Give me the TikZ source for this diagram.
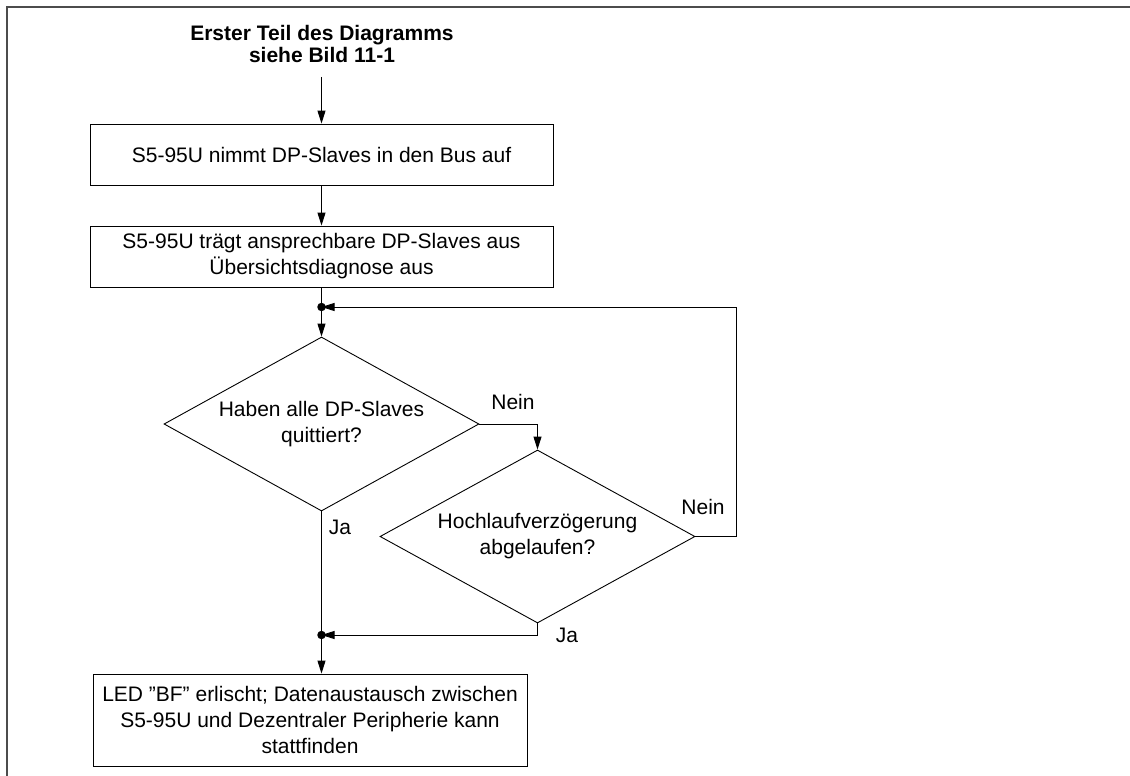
\documentclass[tikz,border=0pt]{standalone}
\usepackage{fontspec}
\setmainfont{Liberation Sans}
\usetikzlibrary{arrows.meta,shapes.geometric}
\begin{document}
\begin{tikzpicture}[x=1pt,y=-1pt,
  every node/.style={font=\fontsize{21}{26}\selectfont},
  stepbox/.style={draw,line width=0.9pt,rectangle,inner sep=0pt,align=center},
  decision/.style={draw,line width=0.9pt,diamond,inner sep=0pt,align=center,aspect=1.81},
  conn/.style={line width=0.9pt},
  arr/.style={conn,-{Triangle[length=13pt,width=8pt]}},
  junction/.style={circle,fill=black,inner sep=0pt,minimum size=8.5pt},
  lbl/.style={inner sep=0pt},
  frameline/.style={draw=black!70,line width=1.6pt}
]
\useasboundingbox (0,0) rectangle (1130,776);
\draw[frameline] (7,776) -- (7,7) -- (1130,7);

\node[align=center,font=\fontsize{21}{22}\selectfont\bfseries] (title) at (322,44) {Erster Teil des Diagramms\\siehe Bild 11-1};
\node[stepbox,minimum width=463pt,minimum height=61pt] (b1) at (321.5,154.5) {S5-95U nimmt DP-Slaves in den Bus auf};
\node[stepbox,minimum width=463pt,minimum height=61pt] (b2) at (321.5,256.5) {S5-95U trägt ansprechbare DP-Slaves aus\\Übersichtsdiagnose aus};
\node[decision,minimum width=315pt,minimum height=174pt] (d1) at (321.5,424) {Haben alle DP-Slaves\\quittiert?};
\node[decision,minimum width=315pt,minimum height=173pt] (d2) at (537.5,536.5) {Hochlaufverzögerung\\abgelaufen?};
\node[stepbox,minimum width=434pt,minimum height=92pt] (b3) at (310,720) {LED "BF" erlischt; Datenaustausch zwischen\\S5-95U und Dezentraler Peripherie kann\\stattfinden};

\node[junction] (j1) at (321.5,307) {};
\node[junction] (j2) at (321.5,635) {};
\coordinate (c1) at (537.5,424);
\coordinate (c2) at (736,536.5);
\coordinate (c3) at (736,307);
\coordinate (c4) at (537.5,635);
\coordinate (start) at (321.5,77);

\node[lbl] (nein1) at (513,402) {Nein};
\node[lbl] (nein2) at (703,507) {Nein};
\node[lbl] (ja1) at (340,527) {Ja};
\node[lbl] (ja2) at (567,635) {Ja};

\draw[arr] (start) -- (b1.north);
\draw[arr] (b1.south) -- (b2.north);
\draw[conn] (b2.south) -- (j1.center);
\draw[arr] (j1.center) -- (d1.north);
\draw[arr] (d1.east) -- (c1) -- (d2.north);
\draw[arr] (d2.east) -- (c2) -- (c3) -- (j1.center);
\draw[arr] (d1.south) -- (b3.north -| d1.south);
\draw[arr] (d2.south) -- (c4) -- (j2.center);
\end{tikzpicture}
\end{document}
